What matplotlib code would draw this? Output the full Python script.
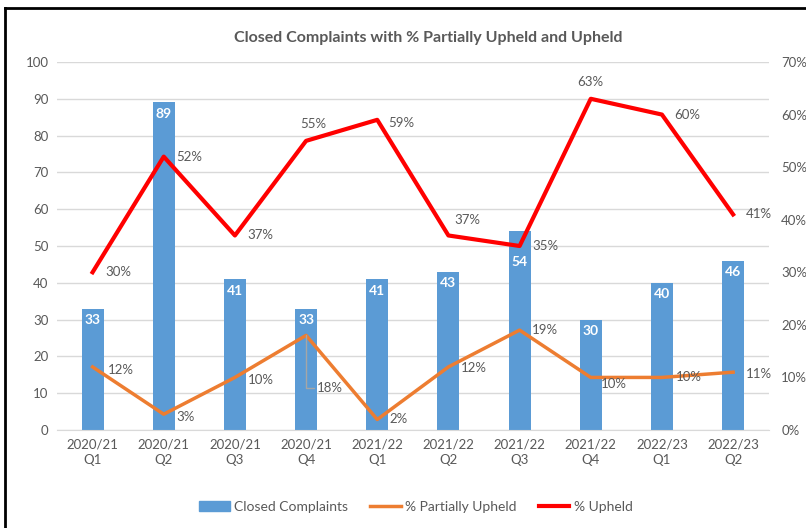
import matplotlib.pyplot as plt
from matplotlib.lines import Line2D
from matplotlib.patches import Patch
import numpy as np

plt.rcParams['font.family'] = ['Lato', 'DejaVu Sans']

# data
quarters = ["2020/21\nQ1", "2020/21\nQ2", "2020/21\nQ3", "2020/21\nQ4", "2021/22\nQ1",
            "2021/22\nQ2", "2021/22\nQ3", "2021/22\nQ4", "2022/23\nQ1", "2022/23\nQ2"]
closed = [33, 89, 41, 33, 41, 43, 54, 30, 40, 46]
partially_upheld = [12, 3, 10, 18, 2, 12, 19, 10, 10, 11]
upheld = [30, 52, 37, 55, 59, 37, 35, 63, 60, 41]

# label offsets in points (dx, dy), ha
up_offsets = [(9, 0, 'left'), (9, 0, 'left'), (9, 0, 'left'), (5, 12, 'center'), (8, -2, 'left'),
              (4, 11, 'left'), (9, 0, 'left'), (0, 12, 'center'), (9, 0, 'left'), (9, 0, 'left')]
pu_offsets = [(11, -2, 'left'), (9, -2, 'left'), (9, -2, 'left'), (8, -38, 'left'), (9, 0, 'left'),
              (9, -1, 'left'), (9, 0, 'left'), (7, -5, 'left'), (10, 0, 'left'), (9, -1, 'left')]
bar_label_dy = [-4, -4, -4, -4, -4, -4, -18, -4, -4, -4]

grey = '#595959'
fig = plt.figure(figsize=(8.06, 5.28), dpi=100)
ax = fig.add_axes([0.0707, 0.1856, 0.883, 0.697])
ax2 = ax.twinx()
ax.set_zorder(ax2.get_zorder() - 1)
ax.patch.set_visible(False)

x = np.arange(len(quarters))
bars = ax.bar(x, closed, width=0.31, color='#5B9BD5', zorder=2)
for xi, v, dy in zip(x, closed, bar_label_dy):
    ax.annotate(str(v), (xi, v), xytext=(0, dy), textcoords='offset points',
                ha='center', va='top', color='white', fontsize=10, fontweight='bold')

ax.set_ylim(0, 100)
ax.set_yticks(range(0, 101, 10))
ax.set_xlim(-0.5, len(quarters) - 0.5)
ax.set_xticks(x)
ax.set_xticklabels(quarters, fontsize=9.5, color=grey, linespacing=1.35)
ax.grid(axis='y', color='#D9D9D9', linewidth=1, zorder=0)
ax.set_axisbelow(True)
for s in ax.spines.values():
    s.set_visible(False)
ax.spines['bottom'].set_visible(True)
ax.spines['bottom'].set_color('#D9D9D9')
ax.tick_params(axis='both', length=0, colors=grey, labelsize=9.5, pad=6)

ax2.plot(x, partially_upheld, color='#ED7D31', linewidth=2.5, zorder=3)
ax2.plot(x, upheld, color='#FF0000', linewidth=3, zorder=3)
ax2.set_ylim(0, 70)
ax2.set_yticks(range(0, 71, 10))
ax2.set_yticklabels([f"{v}%" for v in range(0, 71, 10)])
ax2.tick_params(axis='y', length=0, colors=grey, labelsize=9.5, pad=9)
for s in ax2.spines.values():
    s.set_visible(False)

for xi, v, (dx, dy, ha) in zip(x, upheld, up_offsets):
    ax2.annotate(f"{v}%", (xi, v), xytext=(dx, dy), textcoords='offset points',
                 ha=ha, va='center', color=grey, fontsize=9.5)
for i, (xi, v, (dx, dy, ha)) in enumerate(zip(x, partially_upheld, pu_offsets)):
    if i == 3:
        ax2.annotate(f"{v}%", (xi, v), xytext=(dx, dy), textcoords='offset points',
                     ha=ha, va='center', color=grey, fontsize=9.5,
                     arrowprops=dict(arrowstyle='-', color='#A6A6A6', lw=1,
                                     connectionstyle='angle,angleA=0,angleB=90,rad=0',
                                     shrinkA=0, shrinkB=0))
    else:
        ax2.annotate(f"{v}%", (xi, v), xytext=(dx, dy), textcoords='offset points',
                     ha=ha, va='center', color=grey, fontsize=9.5)

fig.text(0.531, 0.928, "Closed Complaints with % Partially Upheld and Upheld",
         ha='center', va='center', fontsize=11.5, fontweight='bold', color=grey)

handles = [Patch(color='#5B9BD5'),
           Line2D([0], [0], color='#ED7D31', linewidth=2.5),
           Line2D([0], [0], color='#FF0000', linewidth=3)]
fig.legend(handles, ["Closed Complaints", "% Partially Upheld", "% Upheld"],
           loc='center', bbox_to_anchor=(0.516, 0.04), ncol=3, frameon=False,
           fontsize=10, labelcolor=grey, handlelength=2.2, handletextpad=0.3,
           columnspacing=1.6)

# outer chart border (left and top edges visible)
fig.add_artist(Line2D([5 / 806, 5 / 806], [0, 1 - 8 / 528], transform=fig.transFigure,
                      color='black', linewidth=2))
fig.add_artist(Line2D([5 / 806, 1], [1 - 8 / 528, 1 - 8 / 528], transform=fig.transFigure,
                      color='black', linewidth=2))

fig.savefig('out.png', dpi=100)
